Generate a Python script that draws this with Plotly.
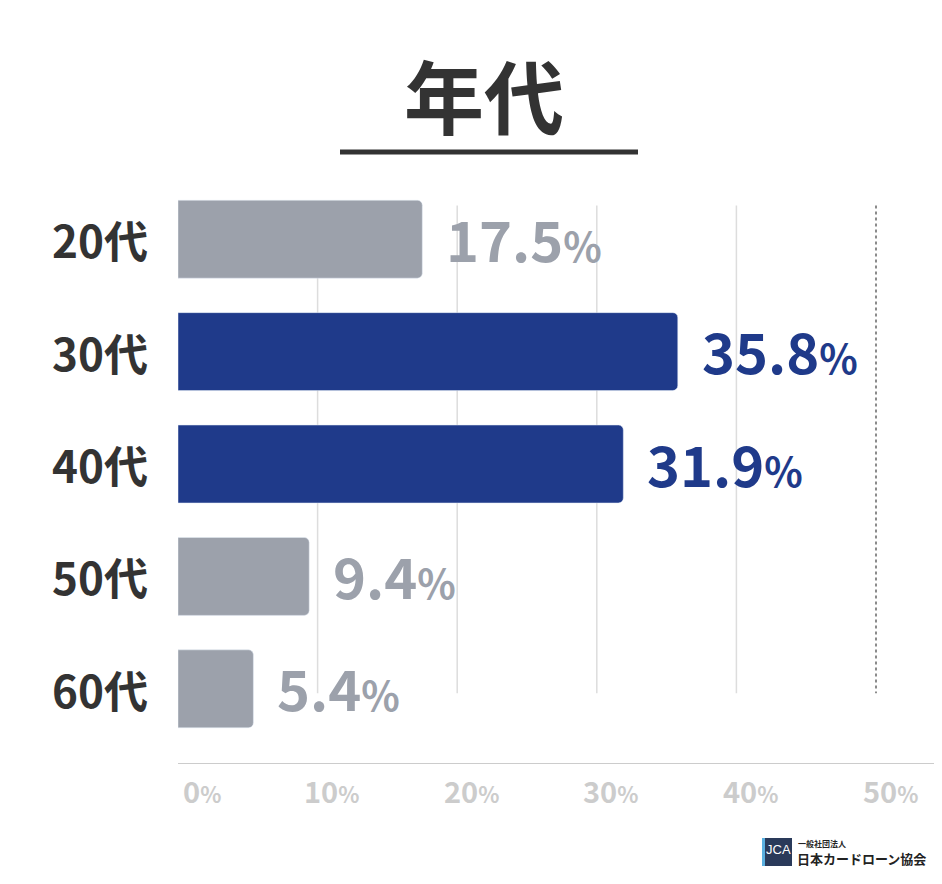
import plotly.graph_objects as go

categories = ["20代", "30代", "40代", "50代", "60代"]
values = [17.5, 35.8, 31.9, 9.4, 5.4]
highlight = [False, True, True, False, False]
tick_vals = [0, 10, 20, 30, 40, 50]

GREY = "#9ca1ab"
NAVY = "#1f3a8a"
FONT = "Noto Sans CJK JP"
colors = [NAVY if h else GREY for h in highlight]
ypos = list(range(len(categories)))

fig = go.Figure()
fig.add_trace(go.Bar(x=values, y=ypos, orientation="h", marker_color=colors,
                     width=78/112.5, hoverinfo="skip"))

OFF = 8  # page offset
W, H = 942 - OFF, 884 - OFF
L, T = 178 - OFF, 183 - OFF
R = 0
B = H - (764 - OFF)
xmax = (942 - 178) / ((876 - 178) / 50)
ybot = 4.5 + 19 / 112.5

def px_x(p):
    return (p - OFF - L) / (W - L - R)
def px_y(p):
    return (H - B - (p - OFF)) / (H - T - B)

shapes = []
for g in [10, 20, 30, 40]:
    shapes.append(dict(type="line", xref="x", yref="y", x0=g, x1=g, y0=-0.30, y1=4.04,
                       line=dict(color="#dddddd", width=1.5), layer="below"))
shapes.append(dict(type="line", xref="x", yref="y", x0=50, x1=50, y0=-0.30, y1=4.04,
                   line=dict(color="#666666", width=1.5, dash="dot"), layer="below"))
shapes.append(dict(type="line", xref="x", yref="y", x0=0, x1=xmax, y0=ybot, y1=ybot,
                   line=dict(color="#cccccc", width=2)))
shapes.append(dict(type="line", xref="paper", yref="paper",
                   x0=px_x(340), x1=px_x(638), y0=px_y(152), y1=px_y(152),
                   line=dict(color="#333333", width=5)))

annotations = []
for i, v in enumerate(values):
    annotations.append(dict(x=v, y=i, xref="x", yref="y", xanchor="left", yanchor="middle",
                            xshift=22, yshift=2, showarrow=False,
                            text=f"{v:.1f}<span style='font-size:40px'>%</span>",
                            font=dict(family=FONT, size=56, color=colors[i], weight="bold")))
    annotations.append(dict(x=px_x(150), y=i, xref="paper", yref="y", xanchor="right",
                            yanchor="middle", showarrow=False, text=categories[i],
                            font=dict(family=FONT, size=44, color="#333333", weight="bold")))
for t in tick_vals:
    annotations.append(dict(x=t, y=px_y(790), xref="x", yref="paper", xanchor="center",
                            yanchor="middle", xshift=24 if t == 0 else 14, showarrow=False,
                            text=f"{t}<span style='font-size:22px'>%</span>",
                            font=dict(family=FONT, size=29, color="#cccccc", weight="bold")))
annotations.append(dict(x=px_x(484), y=px_y(93), xref="paper", yref="paper", showarrow=False,
                        xanchor="center", yanchor="middle",
                        text="年代", font=dict(family=FONT, size=80, color="#333333", weight="bold")))
# logo
shapes.append(dict(type="rect", xref="paper", yref="paper", x0=px_x(762), x1=px_x(792),
                   y0=px_y(866), y1=px_y(838), fillcolor="#2a3a5a", line=dict(width=0)))
shapes.append(dict(type="rect", xref="paper", yref="paper", x0=px_x(762), x1=px_x(765),
                   y0=px_y(866), y1=px_y(838), fillcolor="#5ab0e0", line=dict(width=0)))
annotations.append(dict(x=px_x(778), y=px_y(849), xref="paper", yref="paper", showarrow=False,
                        xanchor="center", yanchor="middle",
                        text="JCA", font=dict(family="Liberation Sans", size=13, color="white")))
annotations.append(dict(x=px_x(796), y=px_y(843), xref="paper", yref="paper", showarrow=False,
                        xanchor="left", yanchor="middle", text="一般社団法人",
                        font=dict(family=FONT, size=8, color="#222222", weight="bold")))
annotations.append(dict(x=px_x(795), y=px_y(858), xref="paper", yref="paper", showarrow=False,
                        xanchor="left", yanchor="middle", text="日本カードローン協会",
                        font=dict(family=FONT, size=13, color="#222222", weight="bold")))

fig.update_layout(
    width=W, height=H, margin=dict(l=L, r=R, t=T, b=B),
    plot_bgcolor="white", paper_bgcolor="white", showlegend=False,
    barcornerradius=5, shapes=shapes, annotations=annotations,
    xaxis=dict(range=[0, xmax], showgrid=False, zeroline=False, showticklabels=False),
    yaxis=dict(range=[ybot, -0.5], showgrid=False, zeroline=False, showticklabels=False),
)
fig.write_html("out.html")
